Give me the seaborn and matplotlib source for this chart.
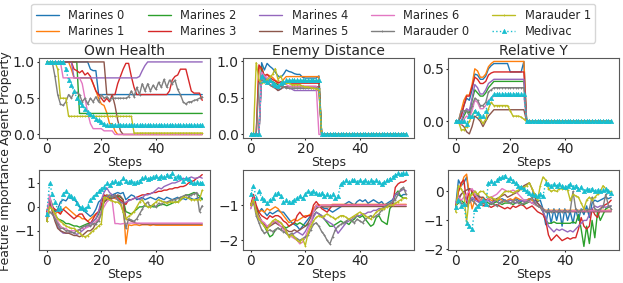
import matplotlib
matplotlib.use('Agg')
import matplotlib.pyplot as plt
import seaborn as sns

#DATA
#******************************************************************************
steps = list(range(58))
names = ['Marines 0', 'Marines 1', 'Marines 2', 'Marines 3', 'Marines 4',
         'Marines 5', 'Marines 6', 'Marauder 0', 'Marauder 1', 'Medivac']
titles = ['Own Health', 'Enemy Distance', 'Relative Y']

#own health (agent property)
oh_m0 = [1.0]*16 + [0.9, 0.88, 0.88, 0.55, 0.55, 0.55] + [0.55]*36
oh_m1 = [1.0]*9 + [0.9, 0.78, 0.78, 0.78, 0.78, 0.78, 0.78, 0.78, 0.7, 0.6, 0.5, 0.42, 0.4,
                   0.3, 0.15, 0.15, 0.05] + [0.0]*32
oh_m2 = [1.0]*12 + [0.29]*46
oh_m3 = [1.0]*10 + [0.9, 0.88, 0.85, 0.88, 0.82, 0.85, 0.8, 0.7, 0.6, 0.55, 0.5, 0.45,
                    0.5, 0.45, 0.55, 0.55, 0.7, 0.8, 0.9, 0.98, 0.98, 0.8, 0.65] \
        + [0.55]*12 + [0.6, 0.75, 0.8, 0.82, 0.9, 0.9, 0.9, 0.75, 0.6, 0.57, 0.57, 0.57, 0.47]
oh_m4 = [1.0]*10 + [0.78]*24 + [0.8, 0.88, 0.95] + [1.0]*21
oh_m5 = [1.0]*22 + [0.55, 0.55, 0.55, 0.4, 0.2, 0.05] + [0.0]*30
oh_m6 = [1.0]*6 + [0.78]*7 + [0.7, 0.5, 0.3, 0.15, 0.08, 0.08, 0.08, 0.08] + [0.05]*4 + [0.0]*33
oh_ma0 = [1.0]*3 + [0.8, 0.55, 0.42, 0.4, 0.45, 0.55, 0.5, 0.58, 0.58, 0.55,
                    0.45, 0.5, 0.42, 0.5, 0.45, 0.52, 0.45, 0.55, 0.5, 0.52,
                    0.48, 0.5, 0.5, 0.5, 0.5, 0.5, 0.5, 0.52, 0.6, 0.52,
                    0.65, 0.55, 0.7, 0.6, 0.7, 0.6, 0.68, 0.62, 0.72, 0.65,
                    0.76, 0.65, 0.75, 0.7, 0.75, 0.62, 0.55, 0.45, 0.42, 0.45,
                    0.45, 0.47, 0.48, 0.5, 0.52]
oh_ma1 = [1.0]*4 + [0.9, 0.5, 0.5, 0.5] + [0.25]*24 + [0.02]*26
oh_med = [1.0]*7 + [0.9, 0.75, 0.68, 0.6, 0.5, 0.45, 0.4, 0.35, 0.31, 0.28, 0.25, 0.22,
                    0.2, 0.17, 0.15] + [0.13]*36

#enemy distance (agent property)
ed_m0 = [0.0]*4 + [0.98, 0.88, 0.97, 0.93, 0.9, 0.85, 0.8, 0.78, 0.82, 0.88, 0.86, 0.85,
                   0.83, 0.82, 0.82, 0.78, 0.77, 0.77, 0.77, 0.77, 0.77, 0.8] + [0.0]*32
ed_m1 = [0.0]*3 + [0.92, 0.88, 0.8, 0.82, 0.8, 0.78, 0.74, 0.72, 0.7, 0.75] + [0.79]*13 + [0.0]*32
ed_m2 = [0.0]*4 + [0.92, 0.78, 0.73, 0.75, 0.72, 0.7, 0.68, 0.66, 0.68, 0.72, 0.73] + [0.73]*11 + [0.0]*32
ed_m3 = [0.0]*3 + [0.95, 0.9, 0.8, 0.82, 0.78, 0.75, 0.73, 0.7, 0.72, 0.7] + [0.7]*13 + [0.0]*32
ed_m4 = [0.0]*4 + [0.85, 0.78, 0.75, 0.72, 0.7, 0.65, 0.6, 0.62, 0.65, 0.64, 0.63, 0.62] + [0.6]*10 + [0.0]*32
ed_m5 = [0.0]*4 + [0.8, 0.75, 0.72, 0.68, 0.65, 0.63, 0.6, 0.62, 0.65, 0.65] + [0.65]*12 + [0.0]*32
ed_m6 = [0.0]*4 + [0.85, 0.8, 0.78, 0.75, 0.7, 0.68, 0.65, 0.68, 0.7, 0.68] + [0.66]*11 + [0.0]*33
ed_ma0 = [0.0]*3 + [0.7, 0.75, 0.72, 0.7, 0.68, 0.66, 0.65, 0.64, 0.66, 0.65] + [0.63]*13 + [0.0]*32
ed_ma1 = [0.0]*2 + [0.98, 0.75, 0.7, 0.72, 0.75, 0.78, 0.82, 0.9, 0.75, 0.8, 0.7, 0.7, 0.7, 0.68,
                    0.68, 0.68, 0.68, 0.66, 0.65, 0.65, 0.64, 0.63, 0.62, 0.62] + [0.0]*32
ed_med = [0.0]*4 + [0.8, 0.75, 0.72, 0.75, 0.7, 0.68, 0.66, 0.7, 0.72, 0.74] + [0.74]*12 + [0.0]*32

#relative y (agent property)
ry_m0 = [0.0]*2 + [0.05, 0.15, 0.22, 0.2, 0.3, 0.45, 0.44, 0.4, 0.4, 0.43, 0.5, 0.53, 0.55, 0.55,
                   0.55, 0.55, 0.55, 0.55, 0.47, 0.47, 0.47, 0.47, 0.47, 0.57] + [0.0]*32
ry_m1 = [0.0]*2 + [0.1, 0.2, 0.25, 0.25, 0.35, 0.5, 0.48, 0.42, 0.42, 0.45, 0.52, 0.55] + [0.57]*12 + [0.0]*32
ry_m2 = [0.0]*2 + [-0.02, 0.05, 0.1, 0.08, 0.2, 0.3, 0.27, 0.24, 0.24, 0.27, 0.32, 0.35] + [0.38]*12 + [0.0]*32
ry_m3 = [0.0]*2 + [0.05, 0.15, 0.24, 0.24, 0.33, 0.42, 0.4, 0.36, 0.36, 0.38, 0.44, 0.46] + [0.47]*12 + [0.0]*32
ry_m4 = [0.0]*2 + [0.0, 0.08, 0.12, 0.1, 0.22, 0.35, 0.32, 0.26, 0.26, 0.3, 0.36, 0.38] + [0.4]*12 + [0.0]*32
ry_m5 = [0.0]*2 + [-0.03, -0.05, -0.1, -0.12, -0.05, 0.05, 0.03, 0.0, -0.05, 0.0, 0.05, 0.08] + [0.11]*12 + [0.0]*32
ry_m6 = [0.0]*2 + [-0.03, 0.02, 0.05, 0.03, 0.1, 0.2, 0.18, 0.12, 0.12, 0.15, 0.2, 0.22] + [0.24]*12 + [0.0]*32
ry_ma0 = [0.0]*2 + [0.1, 0.1, 0.1, 0.05, 0.15, 0.22, 0.2, 0.15, 0.15, 0.18, 0.28, 0.3] + [0.32]*12 + [0.0]*32
ry_ma1 = [0.0]*2 + [-0.08, -0.08, -0.05, 0.0, 0.05, 0.1, 0.08, 0.02, -0.02, 0.02, 0.12, 0.18,
                    0.15, 0.15, 0.15, 0.15, 0.15, 0.15, 0.1, 0.05, 0.05, 0.05, 0.04, 0.02] + [0.0]*32
ry_med = [0.0]*2 + [0.0, 0.0, -0.03, 0.05, 0.05, 0.1, 0.08, 0.05, 0.05, 0.1, 0.18, 0.22] + [0.26]*12 + [0.0]*32

#own health (feature importance)
oi_m0 = [-0.3, 0.2, 0.0, -0.2, -0.1, 0.2, 0.3, 0.25, 0.4, 0.35,
         0.3, 0.2, 0.0, -0.1, -0.2, -0.3, -0.4, -0.3, -0.1, 0.2,
         0.3, 0.4, 0.5, 0.4, 0.5, 0.55, 0.6, 0.55, 0.6, 0.3,
         0.4, 0.5, 0.45, 0.3, 0.35, 0.4, 0.3, 0.35, 0.4, 0.35,
         0.3, 0.4, 0.35, 0.3, 0.4, 0.35, 0.3, 0.35, 0.4, 0.3,
         0.35, 0.3, 0.4, 0.35, 0.3, 0.35, 0.4, 0.35]
oi_m1 = [-0.6, 0.1, -0.1, -0.3, -0.2, -0.3, -0.1, 0.0, -0.1, -0.2,
         -0.3, -0.4, -0.4, -0.5, -0.5, -0.6, -0.5, -0.4, -0.3, -0.2,
         0.0, 0.2, 0.5, 0.45, 0.4, 0.35, 0.3, 0.3, 0.2, -1.55,
         -0.75, -0.78, -0.75, -0.75, -0.78, -0.75, -0.75, -0.75, -0.78, -0.75] + [-0.77]*18
oi_m2 = [-0.6, 0.4, 0.1, -0.3, -0.5, -0.55, -0.6, -0.7, -0.7, -0.75,
         -0.8, -0.8, -0.85, -0.8, -0.75, -0.7, -0.7, -0.6, -0.5, -0.3,
         0.0, 0.2, 0.3, 0.35, 0.4, 0.4, 0.45, 0.4, 0.3, -0.2,
         -0.25, -0.3, -0.2, -0.1, 0.0, 0.0, 0.05, 0.0, 0.05, 0.0,
         0.0, 0.05, 0.1, 0.1, 0.05, 0.1, 0.15, 0.2, 0.2, 0.3,
         0.4, 0.5, 0.5, 0.55, 0.6, 0.55, 0.45, 0.3]
oi_m3 = [-0.2, 0.3, 0.0, -0.1, -0.2, -0.3, -0.1, -0.2, -0.3, -0.4,
         -0.5, -0.4, -0.3, -0.3, -0.5, -0.6, -0.7, -0.5, -0.3, -0.2,
         0.1, 0.5, 0.45, 0.3, 0.35, 0.5, 0.4, 0.3, 0.2, 0.1,
         0.3, 0.3, 0.35, 0.4, 0.45, 0.5, 0.5, 0.55, 0.55, 0.6,
         0.6, 0.65, 0.65, 0.7, 0.7, 0.75, 0.75, 0.8, 0.8, 0.85,
         0.85, 0.9, 1.0, 1.05, 1.1, 1.2, 1.25, 1.35]
oi_m4 = [-0.4, 0.2, -0.1, -0.5, -0.8, -1.0, -1.1, -1.1, -1.1, -1.05,
         -1.1, -1.15, -1.1, -1.0, -0.9, -0.8, -0.7, -0.6, -0.5, -0.2,
         0.3, 0.6, 0.8, 0.6, 0.5, 0.4, 0.3, 0.2, 0.15, 0.2,
         0.25, 0.3, 0.35, 0.4, 0.3, 0.35, 0.5, 0.5, 0.55, 0.6,
         0.7, 0.8, 0.75, 0.85, 0.9, 0.95, 1.0, 1.0, 1.05, 1.1,
         1.2, 1.15, 1.2, 1.25, 1.2, 1.2, 1.25, 1.2]
oi_m5 = [-0.5, 0.3, -0.2, -0.6, -0.9, -1.0, -1.05, -1.1, -1.1, -1.15,
         -1.2, -1.2, -1.25, -1.2, -1.1, -1.0, -1.0, -0.9, -0.7, -0.5,
         -0.2, 0.2, 0.3, 0.3, 0.35, 0.4, 0.5, 0.45, 0.3, -0.5,
         -0.55, -0.6, -0.65, -0.7, -0.7, -0.72, -0.72, -0.72, -0.72, -0.72] + [-0.72]*18
oi_m6 = [-0.5, 0.5, 0.0, -0.4, -0.6, -0.8, -0.9, -0.9, -1.0, -1.0,
         -1.0, -1.0, -0.95, -0.9, -0.9, -0.85, -0.8, -0.7, -0.6, -0.5,
         -0.2, 0.0, 0.2, 0.3, 0.25, -0.7, -0.7, -0.72, -0.7, -0.7] + [-0.68]*28
oi_ma0 = [-0.6, -0.2, -0.3, -0.5, -0.7, -0.9, -0.9, -1.0, -1.0, -1.05,
          -1.1, -1.0, -0.95, -0.85, -0.8, -0.75, -0.8, -0.7, -0.7, -0.6,
          -0.3, 0.4, 0.45, 0.5, 0.4, 0.5, 0.3, 0.2, -0.2, -0.9,
          -0.5, -0.55, -0.6, -0.5, -0.3, -0.1, 0.1, 0.2, 0.0, 0.1,
          0.0, 0.15, 0.1, 0.2, 0.2, 0.25, 0.3, 0.3, 0.35, 0.4,
          0.45, 0.5, 0.45, 0.5, 0.55, 0.6, -0.2, 0.05]
oi_ma1 = [-0.6, 0.0, -0.1, -0.3, -0.5, -0.6, -0.7, -0.8, -0.85, -0.9,
          -0.9, -1.0, -1.1, -1.2, -1.25, -1.2, -1.1, -1.0, -0.9, -0.8,
          -0.7, 0.4, 0.35, 0.3, 0.25, 0.2, 0.2, 0.1, -0.2, -0.5,
          -0.4, -0.3, -0.2, 0.0, 0.2, 0.3, 0.1, 0.0, 0.0, 0.1,
          0.2, 0.3, 0.25, 0.2, 0.15, 0.2, 0.2, 0.2, 0.2, 0.3,
          0.4, 0.4, 0.35, 0.3, 0.3, 0.3, 0.3, 0.7]
oi_med = [-0.3, 1.0, 0.55, 0.2, -0.1, -0.05, 0.55, 0.65, 0.5, 0.45,
          0.35, 0.15, -0.05, 0.0, -0.1, 0.05, 0.3, 0.4, 0.55, 0.65,
          0.75, 0.85, 1.0, 0.9, 1.05, 1.1, 1.0, 1.05, 1.2, 1.1,
          1.05, 1.1, 1.0, 1.05, 1.1, 1.2, 1.25, 1.15, 1.2, 1.25,
          1.3, 1.2, 1.3, 1.25, 1.35, 1.3, 1.4, 1.2, 1.3, 1.25,
          1.1, 1.2, 1.15, 1.05, 1.0, 1.05, 1.0, 1.0]

#enemy distance (feature importance)
ei_m0 = [-1.0, -0.8, -1.1, -1.2, -1.1, -1.2, -1.3, -1.2, -1.25, -1.2,
         -1.15, -1.2, -1.2, -1.3, -1.4, -1.5, -1.55, -1.6, -1.7, -1.6,
         -1.5, -1.4, -1.3, -1.1, -1.05, -1.0, -1.05, -1.1, -1.1, -1.15,
         -1.2, -1.15, -1.1, -1.05, -1.0, -0.95, -0.9, -0.95, -1.0, -0.9,
         -0.85, -0.9, -0.85, -0.95, -0.9, -0.85, -0.9, -0.95, -0.9, -1.0,
         -0.95, -0.9, -0.85, -0.7, -0.7, -0.75, -0.7, -0.7]
ei_m1 = [-1.0, -0.8, -1.1, -1.2, -1.15, -1.2, -1.1, -1.15, -1.1, -1.05,
         -1.1, -1.2, -1.3, -1.4, -1.5, -1.45, -1.4, -1.45, -1.4, -1.35,
         -1.3, -1.3, -1.25, -1.1, -1.0, -1.0, -1.0, -1.0, -1.0, -1.0] + [-0.98]*28
ei_m2 = [-1.0, -0.9, -1.1, -1.3, -1.5, -1.6, -1.75, -1.9, -1.85, -1.7,
         -1.65, -1.7, -1.6, -1.65, -1.6, -1.55, -1.5, -1.55, -1.5, -1.55,
         -1.6, -1.55, -1.5, -1.3, -1.2, -1.25, -1.3, -1.4, -1.5, -1.6,
         -1.6, -1.55, -1.5, -1.45, -1.5, -1.5, -1.55, -1.45, -1.4, -1.3,
         -1.35, -1.3, -1.4, -1.5, -1.6, -1.55, -1.35, -1.3, -1.45, -1.5,
         -1.55, -1.1, -1.0, -0.7, -0.6, -0.75, -0.8, -0.8]
ei_m3 = [-1.0, -0.7, -1.0, -1.2, -1.3, -1.35, -1.4, -1.3, -1.35, -1.3,
         -1.3, -1.35, -1.45, -1.5, -1.6, -1.55, -1.5, -1.3, -1.2, -1.3,
         -1.35, -1.3, -1.3, -1.0, -0.9, -1.0, -1.1, -1.15, -1.2, -1.1] \
        + [-1.0]*23 + [-0.5, -0.4, -0.35, -0.35, -0.3]
ei_m4 = [-1.1, -0.9, -1.2, -1.4, -1.5, -1.55, -1.6, -1.55, -1.5, -1.5,
         -1.45, -1.5, -1.6, -1.75, -1.9, -1.85, -1.8, -1.75, -1.8, -1.85,
         -1.75, -1.6, -1.5, -1.35, -1.2, -1.25, -1.3, -1.4, -1.45, -1.5,
         -1.55, -1.65, -1.8, -1.7, -1.6, -1.5, -1.45, -1.4, -1.35, -1.3,
         -1.3, -1.25, -1.25, -1.2, -1.2, -1.15, -1.15, -1.1, -1.1, -1.05,
         -1.05, -1.0, -0.9, -0.7, -0.65, -0.6, -0.55, -0.6]
ei_m5 = [-1.0, -0.9, -1.15, -1.3, -1.45, -1.55, -1.65, -1.6, -1.55, -1.5,
         -1.55, -1.6, -1.65, -1.7, -1.75, -1.75, -1.7, -1.75, -1.7, -1.65,
         -1.6, -1.5, -1.35, -1.2, -1.1, -1.05, -1.05, -1.05, -1.05, -1.05] + [-1.04]*28
ei_m6 = [-1.1, -0.8, -1.2, -1.35, -1.45, -1.5, -1.6, -1.55, -1.5, -1.45,
         -1.5, -1.6, -1.7, -1.8, -1.85, -1.9, -1.95, -2.0, -2.1, -2.05,
         -1.9, -1.7, -1.5, -1.2, -1.0, -1.05, -1.0, -1.0, -1.0, -1.0] + [-1.0]*28
ei_ma0 = [-1.0, -0.9, -1.3, -1.5, -1.7, -1.8, -1.75, -1.7, -1.75, -1.7,
          -1.65, -1.7, -1.75, -1.8, -1.85, -1.8, -1.9, -1.95, -2.0, -1.95,
          -1.9, -1.85, -1.7, -1.55, -1.5, -1.6, -1.75, -1.85, -2.0, -2.1,
          -1.9, -1.7, -1.6, -1.55, -1.5, -1.45, -1.4, -1.45, -1.5, -1.4,
          -1.45, -1.5, -1.4, -1.35, -1.3, -1.35, -1.3, -1.25, -1.15, -1.05,
          -1.0, -0.95, -0.9, -0.85, -0.7, -0.55, -0.5, -0.7]
ei_ma1 = [-1.0, -0.85, -1.2, -1.4, -1.5, -1.6, -1.7, -1.55, -1.45, -1.4,
          -1.45, -1.5, -1.6, -1.75, -1.9, -1.85, -1.9, -2.0, -2.05, -1.95,
          -2.15, -1.8, -1.6, -1.45, -1.35, -1.3, -1.35, -1.3, -1.25, -1.3,
          -1.35, -1.4, -1.35, -1.3, -1.3, -1.35, -1.4, -1.35, -1.3, -1.25,
          -1.2, -1.25, -1.3, -1.35, -1.4, -1.3, -1.2, -1.15, -1.1, -1.1,
          -1.05, -1.0, -1.0, -0.95, -0.9, -0.85, -0.8, -0.8]
ei_med = [-0.7, -0.45, -0.8, -0.6, -0.8, -0.85, -0.95, -0.85, -0.8, -0.7,
          -0.65, -0.75, -0.9, -0.85, -0.9, -0.9, -0.85, -0.8, -0.75, -0.8,
          -0.7, -0.6, -0.65, -0.6, -0.65, -0.7, -0.65, -0.75, -0.7, -0.75,
          -0.7, -0.8, -0.75, -0.4, -0.35, -0.3, -0.35, -0.3, -0.3, -0.35,
          -0.3, -0.35, -0.3, -0.35, -0.3, -0.35, -0.3, -0.35, -0.4, -0.35,
          -0.3, -0.25, -0.2, -0.15, -0.1, -0.12, -0.1, -0.1]

#relative y (feature importance)
ri_m0 = [-0.5, 0.4, 0.2, 0.3, 0.5, -0.2, -0.3, -0.2, -0.1, -0.3,
         -0.3, -0.35, -0.3, -0.4, -0.3, -0.35, -0.3, -0.25, -0.3, -0.35,
         -0.3, -0.3, -0.25, -0.3, -0.35, -0.3, -0.3, -0.25, -0.3, -0.3,
         -0.35, -0.3, -0.6, -1.15, -0.6, -1.1, -0.6, -1.0, -0.6, -1.2,
         -0.6, -1.0, -0.7, -1.1, -0.6, -1.0, -0.6, -0.8, -0.5, -0.9,
         -0.4, -0.3, -0.35, -0.3, -0.25, -0.2, -0.25, -0.2]
ri_m1 = [-0.6, 0.0, 0.2, 0.5, 0.6, -0.1, -0.6, -0.3, -0.2, -0.3,
         -0.2, -0.3, -0.25, -0.3, -0.35, -0.3, -0.25, -0.3, -0.35, -0.3,
         -0.25, -0.3, -0.2, -0.25, -0.3, -0.35, -0.3, -0.25, -0.3, -0.4,
         -0.5, -0.55, -0.6] + [-0.65]*25
ri_m2 = [-0.5, -0.4, -0.3, -0.4, -0.5, -0.3, 0.0, -0.1, -0.2, -0.3,
         -0.4, -0.35, -0.4, -0.45, -0.4, -0.35, -0.4, -0.45, -0.4, -0.4,
         -0.4, -0.45, -0.4, -0.35, -0.4, -0.45, -0.4, -0.35, -0.4, -0.45,
         -0.5, -0.55, -0.7, -1.0, -1.1, -1.1, -1.05, -1.1, -1.1, -1.1,
         -1.1, -1.1, -1.1, -1.05, -1.1, -0.8, -1.3, -1.9, -1.2, -1.8,
         -1.0, -1.6, -0.7, -1.0, -0.8, -0.6, -0.55, -0.5]
ri_m3 = [-0.5, 0.0, 0.3, 0.4, -0.4, 0.1, 0.0, -0.2, -0.3, -0.4,
         -0.5, -0.45, -0.5, -0.55, -0.5, -0.45, -0.5, -0.55, -0.6, -0.55,
         -0.6, -0.5, -0.55, -0.5, -0.45, -0.5, -0.6, -0.55, -0.5, -0.6,
         -0.7, -0.75, -0.8, -1.0, -1.5, -1.7, -1.6, -1.5, -1.6, -1.7,
         -1.65, -1.6, -1.65, -1.6, -1.6, -1.3, -0.9, -1.2, -1.3, -1.2,
         -0.6, -0.8, -0.9, -0.6, -0.5, -0.45, -0.4, -0.3]
ri_m4 = [-0.4, -0.2, -0.1, 0.0, -0.3, -0.4, -0.2, -0.3, -0.35, -0.4,
         -0.3, -0.35, -0.3, -0.4, -0.35, -0.3, -0.4, -0.35, -0.3, -0.35,
         -0.3, -0.35, -0.4, -0.35, -0.3, -0.35, -0.3, -0.35, -0.4, -0.35,
         -0.4, -0.5, -0.7, -0.9, -1.2, -1.3, -1.4, -1.3, -1.35, -1.3,
         -1.35, -1.4, -1.35, -1.4, -1.3, -1.2, -1.1, -1.0, -1.0, -0.8,
         -0.6, -0.5, -0.55, -0.5, -0.5, -0.55, -0.5, -0.5]
ri_m5 = [-0.4, -0.3, -0.1, 0.0, 0.05, 0.1, 0.05, 0.0, -0.1, -0.2,
         -0.2, -0.3, -0.25, -0.2, -0.3, -0.25, -0.2, -0.15, -0.1, -0.2,
         -0.15, -0.1, -0.05, 0.0, 0.1, 0.2, 0.25, 0.3, 0.1, -0.2,
         -0.4, -0.5, -0.6] + [-0.7]*25
ri_m6 = [-0.4, -0.2, -0.3, -0.2, -0.1, 0.0, 0.1, -0.1, -0.2, -0.3,
         -0.3, -0.35, -0.25, -0.2, -0.15, -0.1, 0.0, 0.1, 0.05, 0.0,
         0.0, 0.05, 0.0, -0.1, -0.2, -0.3, -0.3, -0.35, -0.4, -0.45,
         -0.5, -0.55, -0.6] + [-0.67]*25
ri_ma0 = [-0.5, -0.3, -0.4, -0.45, -0.5, -0.35, -0.3, -0.4, -0.5, -0.45,
          -0.4, -0.45, -0.5, -0.4, -0.45, -0.5, -0.4, -0.35, -0.3, -0.35,
          -0.4, -0.35, -0.3, -0.4, -0.45, -0.4, -0.35, -0.3, -0.2, -0.4,
          -0.5, -0.55, -0.6, -0.7, -0.65, -0.7, -0.65, -0.7, -0.65, -0.7,
          -0.65, -0.7, -0.65, 0.0, -0.6, -0.7, -0.65, -0.6, -0.65, -0.6,
          -0.2, -0.6, -0.65, -0.6, -0.55, -0.1, -0.5, -0.6]
ri_ma1 = [-0.7, 0.2, 0.1, -0.1, -1.05, -0.2, -0.1, 0.0, -0.1, 0.0,
          0.0, -0.1, -0.2, -0.2, -0.25, -0.3, -0.2, -0.1, 0.0, 0.0,
          0.0, -0.05, 0.0, 0.05, 0.1, 0.15, 0.2, 0.3, 0.1, -0.1,
          -0.3, 0.2, 0.5, 0.4, 0.1, 0.0, 0.05, 0.0, 0.1, 0.1,
          0.1, 0.05, -0.3, -0.1, -0.15, -0.2, -0.4, -0.6, -0.3, -0.2,
          -0.3, -0.2, -0.1, 0.0, 0.2, 0.1, 0.0, 0.0]
ri_med = [-0.55, -0.3, -0.5, -0.45, -1.1, -1.2, -1.3, -0.6, -0.5, -0.4,
          -0.3, -0.45, 0.3, 0.35, 0.3, 0.4, 0.45, 0.5, 0.55, 0.4,
          0.45, 0.35, 0.3, 0.2, 0.15, 0.1, 0.0, -0.05, -0.1, -0.12,
          -0.15, -0.1, -0.15, 0.3, 0.25, 0.2, 0.25, 0.2, 0.25, 0.2,
          0.15, 0.2, 0.25, 0.15, 0.2, 0.1, 0.15, 0.0, 0.1, 0.05,
          0.1, 0.0, 0.05, 0.0, 0.05, 0.1, 0.0, -0.05]

#PLOT
#******************************************************************************
panels = [
    [oh_m0, oh_m1, oh_m2, oh_m3, oh_m4, oh_m5, oh_m6, oh_ma0, oh_ma1, oh_med],
    [ed_m0, ed_m1, ed_m2, ed_m3, ed_m4, ed_m5, ed_m6, ed_ma0, ed_ma1, ed_med],
    [ry_m0, ry_m1, ry_m2, ry_m3, ry_m4, ry_m5, ry_m6, ry_ma0, ry_ma1, ry_med],
    [oi_m0, oi_m1, oi_m2, oi_m3, oi_m4, oi_m5, oi_m6, oi_ma0, oi_ma1, oi_med],
    [ei_m0, ei_m1, ei_m2, ei_m3, ei_m4, ei_m5, ei_m6, ei_ma0, ei_ma1, ei_med],
    [ri_m0, ri_m1, ri_m2, ri_m3, ri_m4, ri_m5, ri_m6, ri_ma0, ri_ma1, ri_med],
]
for p in panels:
    for s in p:
        assert len(s) == len(steps), len(s)

sns.set_style('ticks', {'axes.edgecolor': '0.35'})
colors = sns.color_palette('tab10', 10)

#line style per unit: marines solid, marauders with small markers, medivac dotted
def unit_style(i):
    if i < 7:
        return dict()
    if i < 9:
        return dict(marker='+', ms=2, mew=0.6, mec=colors[i])
    return dict(marker='^', ms=3.2, ls=':', mew=0.4, mec=colors[i])

fig = plt.figure(figsize=(6.23, 2.83), dpi=100)
lefts = [0.0626, 0.390, 0.719]
bottoms = [0.512, 0.117]
heights = [0.282, 0.283]
ylims = [(-0.05, 1.05), (-0.05, 1.04), (-0.16, 0.6),
         (-1.8, 1.55), (-2.27, 0.0), (-2.02, 0.75)]
yticks = [[0, 0.5, 1.0], [0, 0.5, 1.0], [0.0, 0.5],
          [-1, 0, 1], [-2, -1], [-2, -1, 0]]

axes = []
for k, series in enumerate(panels):
    row, col = divmod(k, 3)
    ax = fig.add_axes([lefts[col], bottoms[row], 0.2745, heights[row]])
    axes.append(ax)
    for i, vals in enumerate(series):
        sns.lineplot(x=steps, y=vals, ax=ax, color=colors[i], lw=1,
                     legend=False, **unit_style(i))
    ax.set_xlim(-2.85, 59.85)
    ax.set_ylim(*ylims[k])
    ax.set_xticks([0, 20, 40])
    ax.set_yticks(yticks[k])
    ax.tick_params(labelsize=10, length=1.5, width=0.8, pad=1.5)
    ax.set_xlabel('Steps', fontsize=9, labelpad=0)
    if row == 0:
        ax.set_title(titles[col], fontsize=10, pad=2)

axes[0].set_ylabel('Agent Property', fontsize=9)
axes[3].set_ylabel('Feature importance', fontsize=9)
axes[0].yaxis.set_label_coords(-0.16, 0.5)
axes[3].yaxis.set_label_coords(-0.16, 0.5)

handles = axes[0].lines[:10]
fig.legend(handles, names, loc='upper center', ncol=5, fontsize=8.3,
           bbox_to_anchor=(0.503, 0.99), frameon=True, handlelength=2.0,
           columnspacing=2.0, borderaxespad=0.1, labelspacing=0.3)

fig.savefig('out.png', dpi=100)
